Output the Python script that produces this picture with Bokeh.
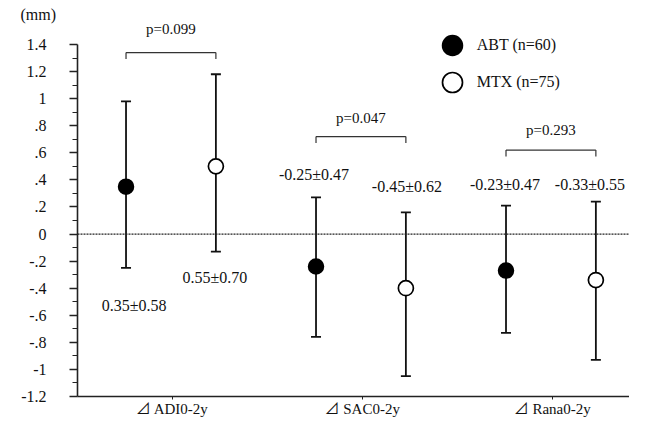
from bokeh.plotting import figure
from bokeh.models import (Range1d, FixedTicker, Span, Whisker, TeeHead, ColumnDataSource,
                          Legend, LegendItem, Title)
from bokeh.core.properties import value
from bokeh.embed import file_html
from bokeh.resources import INLINE

# ---------------- data ----------------
categories = ["⊿ ADI0-2y", "⊿ SAC0-2y", "⊿ Rana0-2y"]
series_labels = ["ABT (n=60)", "MTX (n=75)"]

abt_mean = [0.35, -0.24, -0.27]
abt_upper = [0.98, 0.27, 0.21]
abt_lower = [-0.25, -0.76, -0.73]
abt_text = ["0.35±0.58", "-0.25±0.47", "-0.23±0.47"]

mtx_mean = [0.50, -0.40, -0.34]
mtx_upper = [1.18, 0.16, 0.24]
mtx_lower = [-0.13, -1.05, -0.93]
mtx_text = ["0.55±0.70", "-0.45±0.62", "-0.33±0.55"]

p_text = ["p=0.099", "p=0.047", "p=0.293"]

y_ticks = [-1.2, -1.0, -0.8, -0.6, -0.4, -0.2, 0.0, 0.2, 0.4, 0.6, 0.8, 1.0, 1.2, 1.4]
y_tick_labels = ["-1.2", "-1", "-.8", "-.6", "-.4", "-.2", "0", ".2", ".4", ".6", ".8", "1", "1.2", "1.4"]
y_minor = [-1.1, -0.9, -0.7, -0.5, -0.3, -0.1, 0.1, 0.3, 0.5, 0.7, 0.9, 1.1, 1.3]
unit_label = "(mm)"

# ---------------- layout (annotation placement) ----------------
group_pos = [1, 2, 3]
abt_shift, mtx_shift = -0.243, 0.23
abt_x = [g + abt_shift for g in group_pos]
mtx_x = [g + mtx_shift for g in group_pos]
abt_text_y = [-0.525, 0.44, 0.366]
mtx_text_y = [-0.32, 0.353, 0.366]
abt_text_dx = [8, -2, -1]
mtx_text_dx = [-1, 1, -6]
bracket_y = [1.34, 0.72, 0.62]
bracket_drop = 0.048
p_text_y = [1.514, 0.854, 0.768]

SERIF = "Liberation Serif"
SERIF_CJK = "Liberation Serif, Noto Sans CJK JP"
INK = "#111111"

p = figure(width=629, height=417, frame_width=552, frame_height=375,
           min_border_left=77, min_border_right=0, min_border_top=21, min_border_bottom=21,
           x_range=Range1d(0.5016, 3.407), y_range=Range1d(-1.2, 1.5697),
           output_backend="svg", toolbar_location=None, background_fill_color="white",
           border_fill_color="white")
p.outline_line_color = None
p.xgrid.visible = False
p.ygrid.visible = False

# unit label at the top-left
p.add_layout(Title(text=unit_label, align="left", offset=-57, standoff=-3,
                   text_font=SERIF, text_font_size="16px", text_font_style="normal",
                   text_color=INK, vertical_align="bottom"), "above")

# axes
p.xaxis.ticker = FixedTicker(ticks=group_pos)
p.xaxis.major_label_overrides = {g: c for g, c in zip(group_pos, categories)}
p.xaxis.major_tick_in = 0
p.xaxis.major_tick_out = 3
p.xaxis.minor_tick_out = 0
p.xaxis.major_label_standoff = 1
p.xaxis.axis_line_width = 1.6
p.xaxis.axis_line_color = "#222222"
p.xaxis.major_tick_line_color = "#222222"
p.xaxis.major_label_text_font = SERIF_CJK
p.xaxis.major_label_text_font_size = "15px"
p.xaxis.major_label_text_color = INK

p.yaxis.ticker = FixedTicker(ticks=y_ticks, minor_ticks=y_minor)
p.yaxis.major_label_overrides = {t: l for t, l in zip(y_ticks, y_tick_labels)}
p.yaxis.bounds = (-1.2, 1.4)
p.yaxis.major_tick_in = 0
p.yaxis.major_tick_out = 8
p.yaxis.minor_tick_in = 0
p.yaxis.minor_tick_out = 5
p.yaxis.major_label_standoff = 23
p.yaxis.axis_line_width = 1.6
p.yaxis.axis_line_color = "#222222"
p.yaxis.major_tick_line_color = "#222222"
p.yaxis.minor_tick_line_color = "#222222"
p.yaxis.major_tick_line_width = 1.4
p.yaxis.minor_tick_line_width = 1.2
p.yaxis.major_label_text_font = SERIF
p.yaxis.major_label_text_font_size = "16px"
p.yaxis.major_label_text_color = INK

# zero line
p.add_layout(Span(location=0, dimension="width", line_dash="2 1", line_color="#222222", line_width=1.2))

src_abt = ColumnDataSource(dict(x=abt_x, y=abt_mean, upper=abt_upper, lower=abt_lower,
                                lab=abt_text, ly=abt_text_y, dx=abt_text_dx))
src_mtx = ColumnDataSource(dict(x=mtx_x, y=mtx_mean, upper=mtx_upper, lower=mtx_lower,
                                lab=mtx_text, ly=mtx_text_y, dx=mtx_text_dx))

for src in (src_abt, src_mtx):
    p.add_layout(Whisker(source=src, base="x", upper="upper", lower="lower", dimension="height",
                         line_color=INK, line_width=1.8,
                         upper_head=TeeHead(size=10, line_width=1.8, line_color=INK),
                         lower_head=TeeHead(size=10, line_width=1.8, line_color=INK)))

r_abt = p.scatter("x", "y", source=src_abt, size=15, fill_color="black", line_color="black", line_width=1.5)
r_mtx = p.scatter("x", "y", source=src_mtx, size=15, fill_color="white", line_color="black", line_width=1.7)

# mean ± SD labels
for src in (src_abt, src_mtx):
    p.text("x", "ly", text="lab", source=src, x_offset="dx", text_align="center",
           text_baseline="middle", text_font=value(SERIF), text_font_size="16px", text_color=INK)

# brackets with p values
br = ColumnDataSource(dict(x0=abt_x, x1=mtx_x, y=bracket_y,
                           yb=[b - bracket_drop for b in bracket_y],
                           xm=[(a + m) / 2 for a, m in zip(abt_x, mtx_x)],
                           py=p_text_y, pt=p_text))
p.segment("x0", "y", "x1", "y", source=br, line_color="#333333", line_width=1.2)
p.segment("x0", "y", "x0", "yb", source=br, line_color="#333333", line_width=1.2)
p.segment("x1", "y", "x1", "yb", source=br, line_color="#333333", line_width=1.2)
p.text("xm", "py", text="pt", source=br, text_align="center", text_baseline="middle",
       text_font=value(SERIF), text_font_size="15px", text_color=INK)

# legend: one single-row legend per series, stacked
legend_rows = [(r_abt, 326), (r_mtx, 289.3)]
for lab, (rend, vy) in zip(series_labels, legend_rows):
    p.add_layout(Legend(items=[LegendItem(label=lab, renderers=[rend])],
                        location=(349.7, vy), glyph_width=50, glyph_height=50, label_standoff=-2,
                        padding=0, margin=0, border_line_color=None,
                        background_fill_alpha=0, label_text_font=SERIF,
                        label_text_font_size="16px", label_text_color=INK))

open("out.html", "w").write(file_html(p, INLINE))
